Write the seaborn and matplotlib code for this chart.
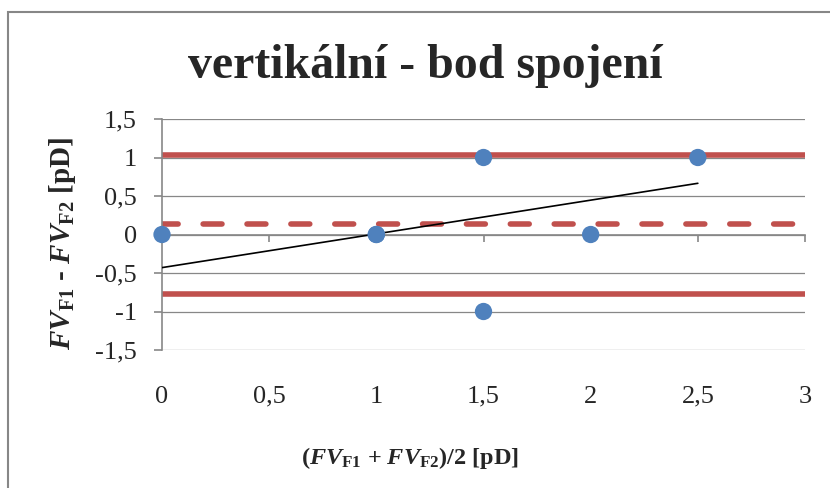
import matplotlib
matplotlib.use('Agg')
import pandas as pd
import seaborn as sns
from matplotlib import pyplot as plt
from matplotlib.patches import Rectangle
from matplotlib.ticker import FuncFormatter

# data
mean_x = [0, 1, 1, 1.5, 1.5, 2, 2.5]
diff_y = [0, 0, 0, 1, -1, 0, 1]
trend_x = [0, 2.5]
trend_y = [-0.43, 0.665]
bias = 0.13
upper_loa = 1.03
lower_loa = -0.77

x_ticks = [0, 0.5, 1, 1.5, 2, 2.5, 3]
y_ticks = [-1.5, -1, -0.5, 0, 0.5, 1, 1.5]

sns.set_theme(style='white')
plt.rcParams['font.family'] = ['Liberation Serif', 'DejaVu Serif']
plt.rcParams['mathtext.fontset'] = 'custom'
plt.rcParams['mathtext.rm'] = 'Liberation Serif'
plt.rcParams['mathtext.it'] = 'Liberation Serif:italic'
plt.rcParams['mathtext.bf'] = 'Liberation Serif:bold'
plt.rcParams['mathtext.bfit'] = 'Liberation Serif:italic:bold'

grey = '#878787'
red = '#C0504D'
blue = '#4F81BD'

fig = plt.figure(figsize=(8.3, 4.88), dpi=100)
ax = fig.add_axes([162/830, 1-350/488, (805-162)/830, (350-119)/488])

# outer chart border
fig.patches.append(Rectangle((8/830, -0.2), 1.2, 0.2 + 1 - 12/488, transform=fig.transFigure,
                             fill=False, edgecolor=grey, linewidth=1.5))

for v in y_ticks:
    ax.axhline(v, color=grey, lw=0.9, zorder=0)

ax.axhline(upper_loa, color=red, lw=4, zorder=2, solid_capstyle='butt')
ax.axhline(lower_loa, color=red, lw=4, zorder=2, solid_capstyle='butt')
ax.axhline(bias, color=red, lw=4, zorder=2, linestyle=(0.5, (3.4, 4.5)), dash_capstyle='round')

df_pts = pd.DataFrame({'x': mean_x, 'y': diff_y})
sns.scatterplot(data=df_pts, x='x', y='y', ax=ax, color=blue, s=155, edgecolor='none', zorder=4, clip_on=False)
df_trend = pd.DataFrame({'x': trend_x, 'y': trend_y})
sns.lineplot(data=df_trend, x='x', y='y', ax=ax, color='black', lw=1.2, zorder=3)

ax.set_xlim(0, 3)
ax.set_ylim(-1.5, 1.5)
ax.set_xticks(x_ticks)
ax.set_yticks(y_ticks)
fmt = FuncFormatter(lambda v, p: ('%g' % v).replace('.', ','))
ax.xaxis.set_major_formatter(fmt)
ax.yaxis.set_major_formatter(fmt)

for s in ['top', 'right']:
    ax.spines[s].set_visible(False)
ax.spines['bottom'].set_position(('data', 0))
ax.spines['bottom'].set_color(grey)
ax.spines['left'].set_color(grey)
ax.spines['bottom'].set_linewidth(1.2)
ax.spines['left'].set_linewidth(1.2)
ax.tick_params(axis='y', direction='out', length=6, width=1.2, color=grey, pad=12, labelsize=19, left=True)
ax.tick_params(axis='x', direction='out', length=5, width=1.2, color=grey, pad=104, labelsize=19, bottom=True)
ax.set_xlabel('')
ax.set_ylabel('')

fig.text(425/830, 1-66/488, 'vertikální - bod spojení', ha='center', va='center',
         fontsize=34.5, fontweight='bold')
fig.text(410/830, 1-458/488,
         '(' + r'$\mathbfit{FV}_{\mathbf{F1}}$' + ' + ' + r'$\mathbfit{FV}_{\mathbf{F2}}$' + ')/2 [pD]',
         ha='center', va='center', fontsize=17.5, fontweight='bold')
fig.text(63/830, 1-243/488,
         r'$\mathbfit{FV}_{\mathbf{F1}}$' + ' - ' + r'$\mathbfit{FV}_{\mathbf{F2}}$' + ' [pD]',
         ha='center', va='center', rotation=90, fontsize=21, fontweight='bold')

fig.savefig('out.png', dpi=100)
